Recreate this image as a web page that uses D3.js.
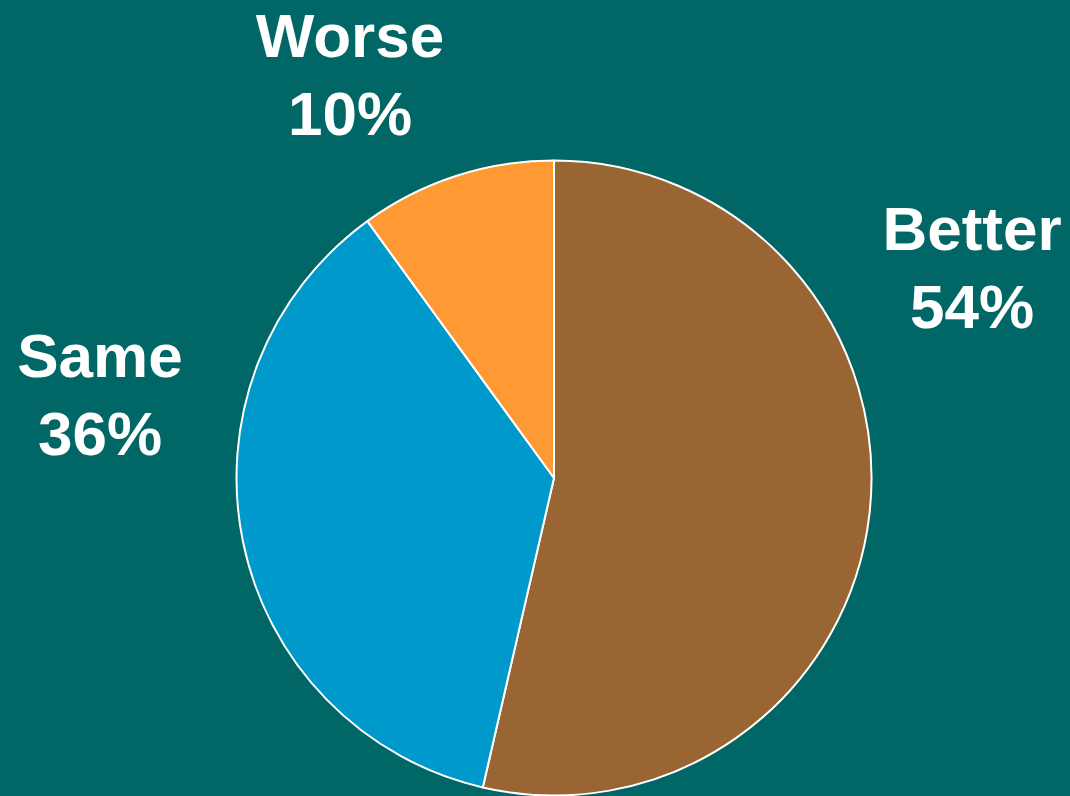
<!DOCTYPE html>
<html>
	<head>
		<meta charset="utf-8">
		<title></title>
		<style>
			html, body { margin: 0; padding: 0; background: #006666; }
			svg { display: block; }
		</style>
	</head>
	<body>
	<div id="pie"></div>
		<script src="https://cdn.jsdelivr.net/npm/d3@7/dist/d3.min.js"></script>

		<script>
			var categories = ['Better', 'Same', 'Worse'];
			var values = [53.6, 36.4, 10];
			var colors = ['#996633', '#0099CC', '#FF9933'];

			var width = 1070, height = 796;
			var cx = 554, cy = 478, radius = 317.5;

			// label anchor points (centre x, baseline of first line)
			var labelPos = {
				'Better': [972, 250],
				'Same': [100, 377],
				'Worse': [350, 57]
			};

			var svg = d3.select('#pie').append('svg').attr('width', width).attr('height', height);

			svg.append('rect').attr('width', width).attr('height', height).attr('fill', '#006666');

			var pie = d3.pie().sort(null).value(function(d){ return d.value; });
			var arc = d3.arc().innerRadius(0).outerRadius(radius);

			var data = categories.map(function(c, i){ return {name: c, value: values[i], color: colors[i]}; });

			var g = svg.append('g').attr('transform', 'translate(' + cx + ',' + cy + ')');

			g.selectAll('path')
				.data(pie(data))
				.enter().append('path')
				.attr('d', arc)
				.attr('fill', function(d){ return d.data.color; })
				.attr('stroke', '#ffffff')
				.attr('stroke-width', 2)
				.attr('stroke-linejoin', 'round');

			var labels = svg.selectAll('text.lbl')
				.data(data)
				.enter().append('text')
				.attr('class', 'lbl')
				.attr('text-anchor', 'middle')
				.attr('fill', '#ffffff')
				.style('font-family', 'Liberation Sans, Arial, sans-serif')
				.style('font-weight', 'bold')
				.style('font-size', '62px');

			labels.append('tspan')
				.attr('x', function(d){ return labelPos[d.name][0]; })
				.attr('y', function(d){ return labelPos[d.name][1]; })
				.text(function(d){ return d.name; });

			labels.append('tspan')
				.attr('x', function(d){ return labelPos[d.name][0]; })
				.attr('y', function(d){ return labelPos[d.name][1] + 78; })
				.text(function(d){ return Math.round(d.value) + '%'; });
		</script>
	</body>
</html>
